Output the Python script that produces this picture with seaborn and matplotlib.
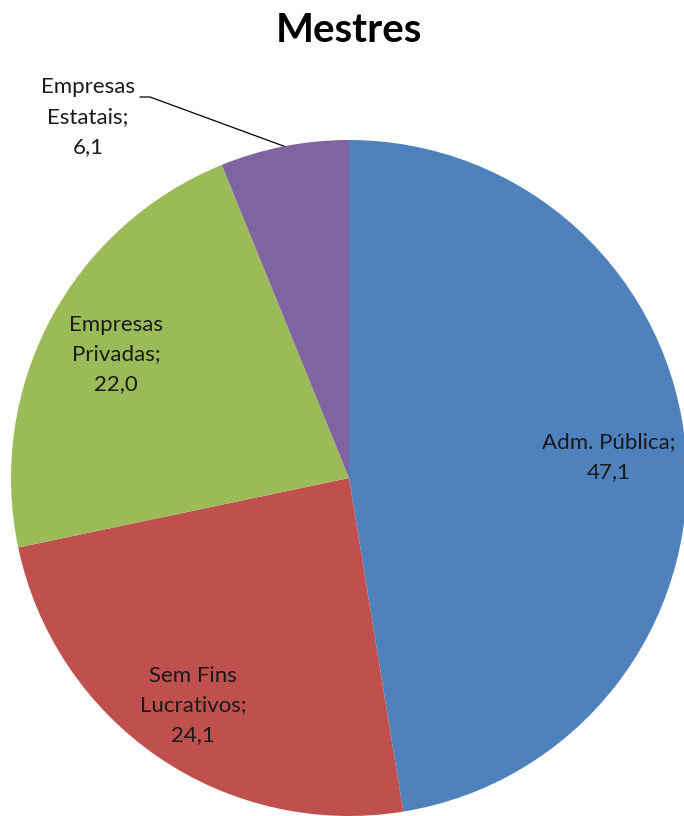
import numpy as np
import seaborn as sns
from matplotlib import pyplot as plt

# data
categorias = ["Adm. Pública", "Sem Fins\nLucrativos", "Empresas\nPrivadas", "Empresas\nEstatais"]
valores = [47.1, 24.1, 22.0, 6.1]
cores = ["#4F81BD", "#C0504D", "#9BBB59", "#8064A2"]

sns.set_theme(style="white")
plt.rcParams['font.family'] = ['Lato', 'DejaVu Sans']

fig = plt.figure(figsize=(6.84, 8.16), dpi=100)
fig.patch.set_facecolor("white")

# pie axes: center at (349, 478) px, radius ~338 px
W, H = 684, 816
cx, cy, r = 349, 478, 338
ax = fig.add_axes([(cx - r) / W, (H - cy - r) / H, 2 * r / W, 2 * r / H])

wedges, _ = ax.pie(valores, colors=cores, startangle=90, counterclock=False,
                   radius=1, wedgeprops=dict(linewidth=0))
for w in wedges:
    w.set_clip_on(False)
ax.set_xlim(-1, 1)
ax.set_ylim(-1, 1)
ax.set_aspect("equal")
ax.axis("off")

fs = 16
ls = 1.6
dist = [0.77, 0.815, 0.78]
for i, (cat, val) in enumerate(zip(categorias, valores)):
    w = wedges[i]
    ang = np.deg2rad((w.theta1 + w.theta2) / 2)
    txt = "{};\n{}".format(cat, ("%.1f" % val).replace(".", ","))
    if i < 3:
        x, y = dist[i] * np.cos(ang), dist[i] * np.sin(ang)
        ax.text(x, y, txt, ha="center", va="center", fontsize=fs,
                linespacing=ls, color="#1a1a1a")
    else:
        # outside label with leader line
        ex, ey = np.cos(ang), np.sin(ang)
        tx, ty = (88 - cx) / r, (cy - 117) / r
        ax.text(tx, ty, txt, ha="center", va="center", fontsize=fs,
                linespacing=ls, color="#1a1a1a", clip_on=False)
        lx0, lx1, ly = (140 - cx) / r, (150 - cx) / r, (cy - 97) / r
        ax.plot([lx0, lx1, ex], [ly, ly, ey], color="black", lw=0.9,
                clip_on=False)

fig.text(cx / W, 1 - 31 / H, "Mestres", ha="center", va="center",
         fontsize=29, fontweight="bold", color="black")

plt.savefig("out.png", dpi=100)
plt.close()
